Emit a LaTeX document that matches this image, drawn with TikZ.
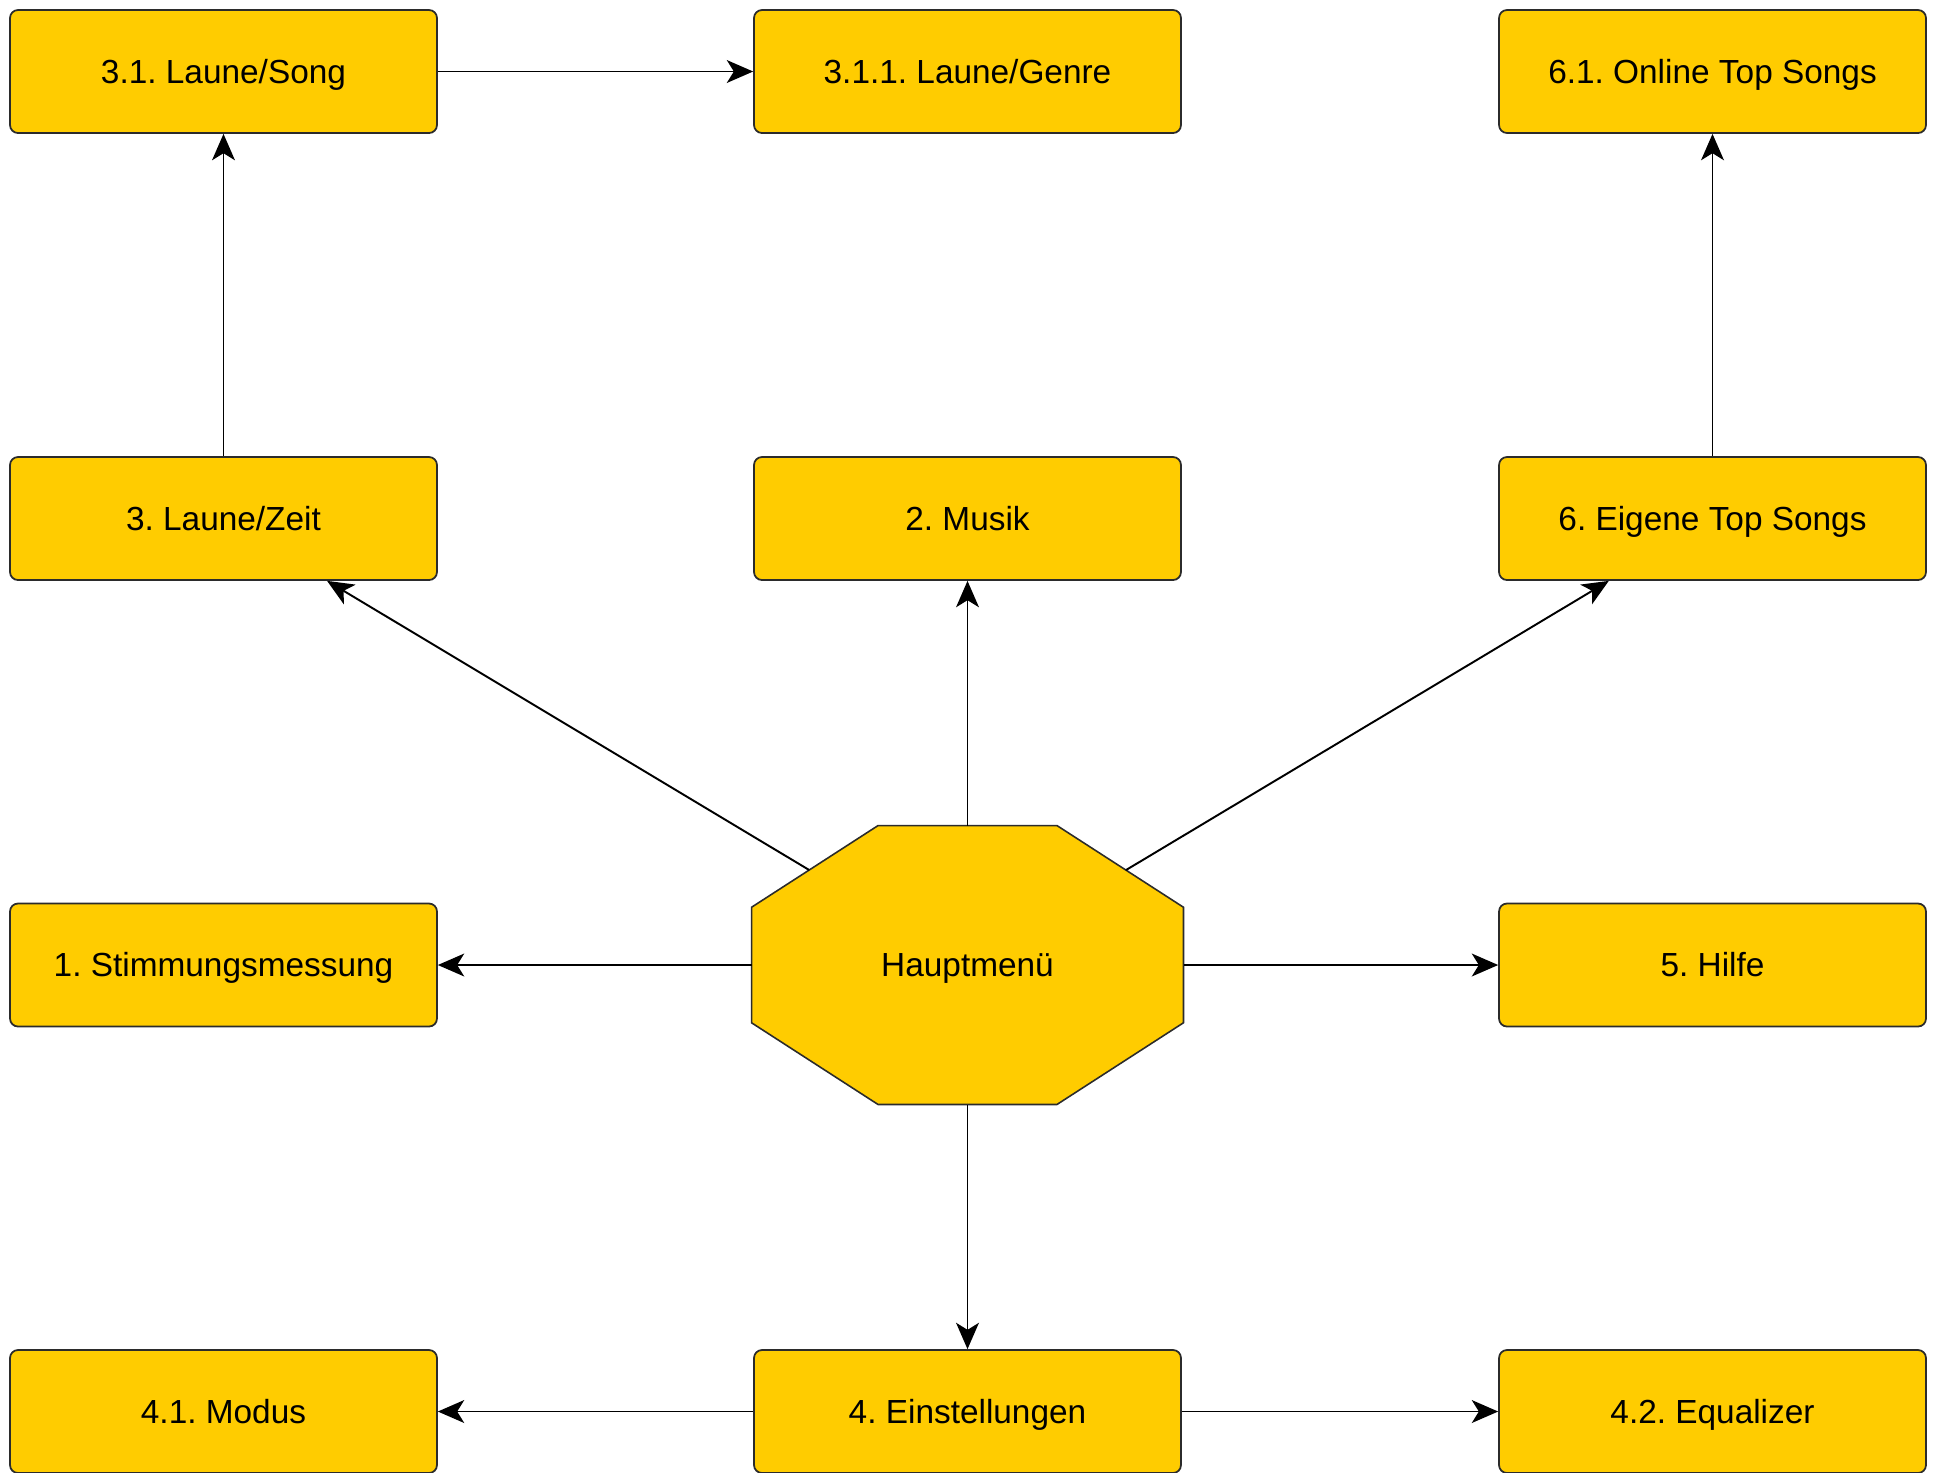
\documentclass[tikz,border=0pt]{standalone}
\usepackage{fontspec}
\setmainfont{Liberation Sans}
\usetikzlibrary{arrows.meta,shapes.geometric}
\definecolor{menuyellow}{HTML}{FFCC00}
\definecolor{menuline}{HTML}{2B2B2B}
\frenchspacing

\begin{document}
\begin{tikzpicture}[x=0.02cm, y=-0.02cm,
    menubox/.style={draw=menuline, fill=menuyellow, line width=1pt, rounded corners=4.5pt,
        minimum width=8.54cm, minimum height=2.46cm, inner sep=0pt,
        text height=14pt, text depth=0.4pt, font=\fontsize{19}{23}\selectfont},
    hubshape/.style={draw=menuline, fill=menuyellow, line width=0.9pt, regular polygon,
        regular polygon sides=8, minimum size=2.1648cm, inner sep=0pt, outer sep=0pt,
        transform shape},
    link/.style={-{Stealth[length=15pt, width=13pt, inset=4pt]}, line width=1.1pt}]
    \useasboundingbox (0,0) rectangle (1933,1472);

    % Hauptmenue
    \begin{scope}[shift={(967.5,965)}, xscale=4.32, yscale=2.79]
        \node[hubshape] (hub) at (0,0) {};
    \end{scope}
    \node[font=\fontsize{19}{23}\selectfont, inner sep=0pt, text height=14pt, text depth=0.4pt]
        (hubtext) at (hub) {Hauptmenü};

    % row 1
    \node[menubox] (song) at (223.5,71.5) {3.1. Laune/Song};
    \node[menubox] (genre) at (967.5,71.5) {3.1.1. Laune/Genre};
    \node[menubox] (online) at (1712.5,71.5) {6.1. Online Top Songs};

    % row 2
    \node[menubox] (zeit) at (223.5,518.5) {3. Laune/Zeit};
    \node[menubox] (musik) at (967.5,518.5) {2. Musik};
    \node[menubox] (eigene) at (1712.5,518.5) {6. Eigene Top Songs};

    % row 3
    \node[menubox] (stimmung) at (223.5,965) {1. Stimmungsmessung};
    \node[menubox] (hilfe) at (1712.5,965) {5. Hilfe};

    % row 4
    \node[menubox] (modus) at (223.5,1411.5) {4.1. Modus};
    \node[menubox] (einst) at (967.5,1411.5) {4. Einstellungen};
    \node[menubox] (equal) at (1712.5,1411.5) {4.2. Equalizer};

    % arrows from the main menu
    \draw[link] (hub) -- (stimmung);
    \draw[link] (hub) -- (hilfe);
    \draw[link] (hub) -- (musik);
    \draw[link] (hub) -- (zeit);
    \draw[link] (hub) -- (eigene);
    \draw[link] (hub) -- (einst);

    % sub menus
    \draw[link] (einst) -- (modus);
    \draw[link] (einst) -- (equal);
    \draw[link] (zeit) -- (song);
    \draw[link] (song) -- (genre);
    \draw[link] (eigene) -- (online);
\end{tikzpicture}
\end{document}
